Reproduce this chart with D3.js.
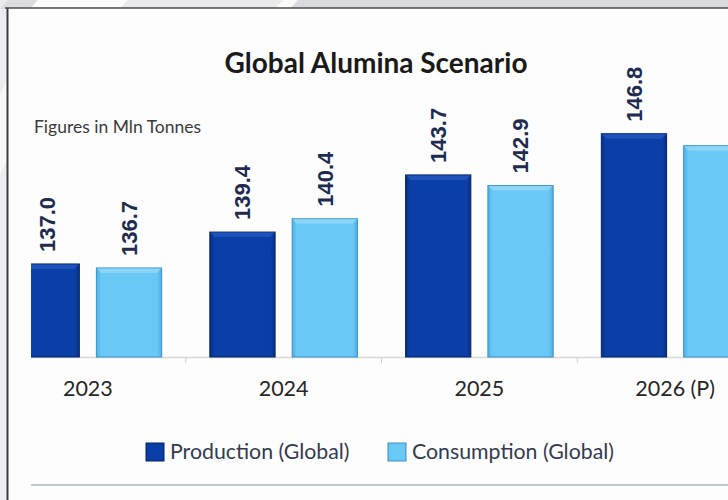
<!DOCTYPE html>
<html><head><meta charset="utf-8">
<script src="https://cdn.jsdelivr.net/npm/d3@7"></script>
<style>html,body{margin:0;padding:0;background:#fff;}svg{display:block;}</style>
</head><body>
<svg id="c" width="728" height="500"></svg>
<script>
const years = ["2023", "2024", "2025", "2026 (P)"];
const seriesNames = ["Production (Global)", "Consumption (Global)"];
const production = [137.0, 139.4, 143.7, 146.8];
const consumption = [136.7, 140.4, 142.9, 145.9];
const productionLabels = ["137.0", "139.4", "143.7", "146.8"];
const consumptionLabels = ["136.7", "140.4", "142.9", null];
const title = "Global Alumina Scenario";
const unitNote = "Figures in Mln Tonnes";

const colors = {
  "Production (Global)": {base: "#0b3fa8", light: "#2457bd", dark: "#072f85", edge: "#05246a"},
  "Consumption (Global)": {base: "#69c8f5", light: "#92d8f8", dark: "#4eb0e3", edge: "#3b92c8"}
};

const svg = d3.select("#c");
const W = 728, H = 500;

// background / frame
svg.append("rect").attr("width", W).attr("height", H).attr("fill", "#ececef");
const defs = svg.append("defs");
[[0,30,"#dcdce0"],[30,120,"#fbfbfc"],[120,275,"#e9e9ec"],[275,290,"#fafafa"],[290,820,"#d9dade"]].forEach(s => {
  svg.append("polygon").attr("points", `${s[0]+8},0 ${s[1]+8},0 ${s[1]},9 ${s[0]},9`).attr("fill", s[2]);
});
svg.append("polygon").attr("points", "0,95 7,80 7,160 0,175").attr("fill", "#f7f7f8");
svg.append("rect").attr("x", 8).attr("y", 8).attr("width", W).attr("height", H).attr("fill", "#fdfdfd");
svg.append("line").attr("x1", 7.5).attr("x2", 7.5).attr("y1", 8).attr("y2", H).attr("stroke", "#3c3c3c").attr("stroke-width", 2);
svg.append("line").attr("x1", 5).attr("x2", W).attr("y1", 8).attr("y2", 8).attr("stroke", "#4a4a4a").attr("stroke-width", 1.5);

// scales
const x0 = d3.scaleBand().domain(years).range([-10, 773]).paddingInner(0.246).paddingOuter(0.123);
const x1 = d3.scaleBand().domain(seriesNames).range([0, x0.bandwidth()]).paddingInner(0.207);
const y = d3.scaleLinear().domain([130, 150]).range([357, 91.2]);

seriesNames.forEach((s, i) => {
  const g = defs.append("linearGradient").attr("id", "g" + i).attr("x1", 0).attr("x2", 1).attr("y1", 0).attr("y2", 0);
  g.append("stop").attr("offset", "0%").attr("stop-color", colors[s].dark);
  g.append("stop").attr("offset", "7%").attr("stop-color", colors[s].base);
  g.append("stop").attr("offset", "93%").attr("stop-color", colors[s].base);
  g.append("stop").attr("offset", "100%").attr("stop-color", colors[s].dark);
});
defs.append("clipPath").attr("id", "plotClip").append("rect").attr("x", 31).attr("y", 0).attr("width", W).attr("height", H);

const plot = svg.append("g").attr("clip-path", "url(#plotClip)");

const xAxis = d3.axisBottom(x0).tickSize(0).tickFormat("");
plot.append("g").attr("transform", `translate(0,${y(130)})`).call(xAxis)
  .call(g => g.select(".domain").attr("stroke", "#d9d9d9").attr("stroke-width", 1.5));
const boundaries = years.slice(1).map((yr, i) => (x0(years[i]) + x0.bandwidth() + x0(yr)) / 2);
plot.selectAll(".sep").data(boundaries).join("line")
  .attr("x1", d => d).attr("x2", d => d).attr("y1", y(130)).attr("y2", y(130) + 6)
  .attr("stroke", "#d0d0d0").attr("stroke-width", 1);

const rows = years.map((yr, i) => ({year: yr, values: [
  {s: seriesNames[0], v: production[i], label: productionLabels[i], si: 0},
  {s: seriesNames[1], v: consumption[i], label: consumptionLabels[i], si: 1}
]}));

const groups = plot.selectAll(".grp").data(rows).join("g").attr("transform", d => `translate(${x0(d.year)},0)`);
const bars = groups.selectAll(".bar").data(d => d.values).join("g");
bars.append("rect")
  .attr("x", d => x1(d.s)).attr("y", d => y(d.v))
  .attr("width", x1.bandwidth()).attr("height", d => y(130) - y(d.v))
  .attr("fill", d => `url(#g${d.si})`).attr("stroke", d => colors[d.s].edge).attr("stroke-width", 1);
bars.append("polygon").attr("points", d => {
  const a = x1(d.s), b = a + x1.bandwidth(), t = y(d.v);
  return `${a+0.5},${t+0.5} ${b-0.5},${t+0.5} ${b-5},${t+5} ${a+5},${t+5}`;
}).attr("fill", d => colors[d.s].light).attr("opacity", 0.85);
bars.filter(d => d.label).append("text")
  .attr("transform", d => `translate(${x1(d.s) + x1.bandwidth() / 2},${y(d.v) - 12}) rotate(-90)`)
  .attr("dy", "0.36em").attr("text-anchor", "start")
  .attr("font-family", "Liberation Sans, Arial, sans-serif").attr("font-weight", "bold")
  .attr("font-size", 22).attr("fill", "#1d2b4f").text(d => d.label);

svg.selectAll(".cat").data(years).join("text")
  .attr("x", d => x0(d) + x0.bandwidth() / 2).attr("y", 396)
  .attr("text-anchor", "middle").attr("font-family", "Lato, sans-serif").attr("font-size", 21.5)
  .attr("fill", "#262626").text(d => d);

svg.append("text").attr("x", 376).attr("y", 73).attr("text-anchor", "middle")
  .attr("font-family", "Lato, sans-serif").attr("font-weight", "bold").attr("font-size", 28)
  .attr("fill", "#1a1a1a").text(title);
svg.append("text").attr("x", 34).attr("y", 133)
  .attr("font-family", "Lato, sans-serif").attr("font-size", 17.5)
  .attr("fill", "#3a3a3a").text(unitNote);

const legendX = [146, 388];
const lg = svg.selectAll(".lg").data(seriesNames).join("g").attr("transform", (d, i) => `translate(${legendX[i]},443)`);
lg.append("rect").attr("width", 18).attr("height", 18)
  .attr("fill", (d, i) => `url(#g${i})`).attr("stroke", d => colors[d].edge);
lg.append("text").attr("x", 24).attr("y", 9).attr("dy", "0.35em")
  .attr("font-family", "Lato, sans-serif").attr("font-size", 21.3).attr("fill", "#333b50").text(d => d);

svg.append("line").attr("x1", 31).attr("x2", W).attr("y1", 485).attr("y2", 485)
  .attr("stroke", "#a9b3c6").attr("stroke-width", 1.5);
</script>
</body></html>
